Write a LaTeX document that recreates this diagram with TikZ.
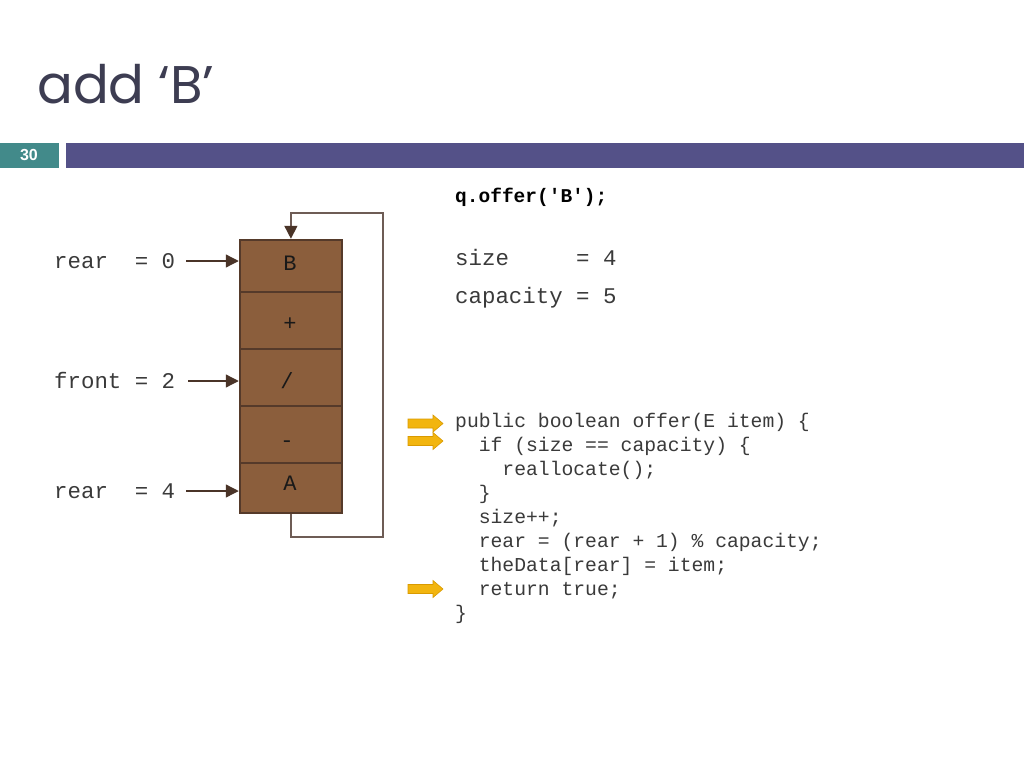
\documentclass[tikz,border=0pt]{standalone}
\usepackage{fontspec}
\usetikzlibrary{arrows.meta}
\newfontfamily\monof{Liberation Mono}
\newfontfamily\titlef{Poppins}
\newfontfamily\sansf{Liberation Sans}
\definecolor{titlecol}{HTML}{3D3D52}
\definecolor{tealc}{HTML}{428A8A}
\definecolor{barc}{HTML}{545188}
\definecolor{cellc}{HTML}{8B5E3C}
\definecolor{celledge}{HTML}{553A2A}
\definecolor{loopc}{HTML}{6E5C55}
\definecolor{tipc}{HTML}{4A3428}
\definecolor{codec}{HTML}{3A3A3A}
\definecolor{yel}{HTML}{F2B50F}
\definecolor{yeledge}{HTML}{D99A00}
\tikzset{
  lbl/.style={anchor=base west,inner sep=0pt,font=\monof\fontsize{22.4}{24}\selectfont,text=codec},
  code/.style={anchor=base west,inner sep=0pt,font=\monof\fontsize{19.7}{24}\selectfont,text=codec},
  cell/.style={draw=celledge,line width=1.8pt,fill=cellc,minimum width=102.5pt,inner sep=0pt,anchor=north west},
  celltxt/.style={inner sep=0pt,font=\monof\fontsize{22}{24}\selectfont,text=black!90},
  ptr/.style={draw=tipc,line width=1.3pt,-{Triangle[length=13pt,width=13pt]}},
  loopl/.style={draw=loopc,line width=1.6pt},
  yarr/.pic={\filldraw[fill=yel,draw=yeledge,line width=0.6pt] (0,-4.5) -- (25,-4.5) -- (25,-8.5) -- (35,0) -- (25,8.5) -- (25,4.5) -- (0,4.5) -- cycle;}
}
\begin{document}
\begin{tikzpicture}[x=1pt,y=-1pt]
\useasboundingbox (0,0) rectangle (1024,768);
\fill[white] (0,0) rectangle (1024,768);
% title
\node[anchor=base west,inner sep=0pt,text=titlecol,font=\titlef\fontsize{53}{58}\selectfont] (title) at (37,103) {add ‘B’};
% header bars
\fill[tealc] (0,143) rectangle (59,168);
\fill[barc] (66,143) rectangle (1024,168);
\node[inner sep=0pt,text=white,font=\sansf\bfseries\fontsize{16}{18}\selectfont] (num) at (29,155.5) {30};
% array cells
\node[cell,minimum height=52pt] (c0) at (238.75,238.75) {};
\node[cell,minimum height=57pt] (c1) at (238.75,290.75) {};
\node[cell,minimum height=57pt] (c2) at (238.75,347.75) {};
\node[cell,minimum height=57pt] (c3) at (238.75,404.75) {};
\node[cell,minimum height=50.5pt] (c4) at (238.75,461.75) {};
\node[celltxt,anchor=base] (t0) at (290,270) {B};
\node[celltxt,anchor=base] (t1) at (290,330) {+};
\node[celltxt,anchor=base] (t2) at (287,388) {/};
\node[celltxt,anchor=base] (t3) at (287,447) {-};
\node[celltxt,anchor=base] (t4) at (290,490) {A};
% loop connector
\coordinate (lb) at (c4.south |- 0,537);
\coordinate (lr1) at (383,537);
\coordinate (lr2) at (383,213);
\coordinate (lt) at (c0.north |- 0,213);
\draw[loopl,line join=miter,-{Triangle[length=13pt,width=13pt,color=tipc]}] (c4.south) -- (lb) -- (lr1) -- (lr2) -- (lt) -- (c0.north);
% labels
\node[lbl] (rear0) at (54,268) {rear\ \ = 0};
\node[lbl] (front) at (54,388) {front = 2};
\node[lbl] (rear4) at (54,498) {rear\ \ = 4};
\coordinate (a0) at (186,261);
\coordinate (a1) at (188,381);
\coordinate (a2) at (186,491);
\draw[ptr] (a0) -- (c0.west |- a0);
\draw[ptr] (a1) -- (c2.west |- a1);
\draw[ptr] (a2) -- (c4.west |- a2);
% right text
\node[anchor=base west,inner sep=0pt,font=\monof\bfseries\fontsize{19.5}{24}\selectfont,text=black] (call) at (455,202) {q.offer('B');};
\node[lbl] (size) at (455,265) {size\ \ \ \ \ = 4};
\node[lbl] (cap) at (455,303) {capacity = 5};
% code
\node[code] (l1) at (455,427) {public boolean offer(E item) \{};
\node[code] (l2) at (455,451) {\ \ if (size == capacity) \{};
\node[code] (l3) at (455,475) {\ \ \ \ reallocate();};
\node[code] (l4) at (455,499) {\ \ \}};
\node[code] (l5) at (455,523) {\ \ size++;};
\node[code] (l6) at (455,547) {\ \ rear = (rear + 1) \% capacity;};
\node[code] (l7) at (455,571) {\ \ theData[rear] = item;};
\node[code] (l8) at (455,595) {\ \ return true;};
\node[code] (l9) at (455,619) {\}};
% yellow arrows
\pic at (408,423.5) {yarr};
\pic at (408,441) {yarr};
\pic at (408,589) {yarr};
\end{tikzpicture}
\end{document}
